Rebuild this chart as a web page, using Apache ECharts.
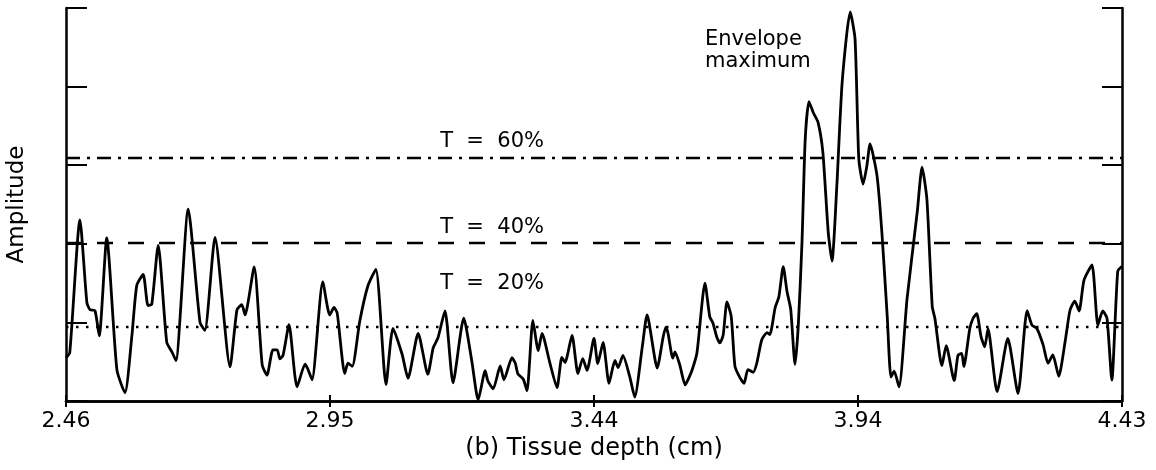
<!DOCTYPE html>
<html>
<head>
<meta charset="utf-8">
<title>Envelope and thresholds</title>
<script src="https://cdn.jsdelivr.net/npm/echarts@6/dist/echarts.min.js"></script>
<style>
  html, body { margin: 0; padding: 0; background: #fff; }
  #chart { width: 1156px; height: 470px; }
</style>
</head>
<body>
<div id="chart"></div>
<script>
// traced envelope: tissue depth (cm) and amplitude (% of full scale)
const depth = [
  2.460,2.467,2.486,2.499,2.505,2.514,2.522,2.536,2.555,2.570,
  2.583,2.592,2.604,2.613,2.620,2.632,2.648,2.658,2.665,2.688,
  2.710,2.719,2.738,2.766,2.779,2.788,2.794,2.811,2.826,2.835,
  2.846,2.854,2.859,2.865,2.876,2.891,2.906,2.911,2.919,2.939,
  2.952,2.960,2.966,2.980,2.986,2.994,3.008,3.023,3.038,3.057,
  3.070,3.087,3.098,3.117,3.135,3.145,3.154,3.167,3.182,3.202,
  3.217,3.229,3.242,3.247,3.257,3.270,3.277,3.292,3.298,3.303,
  3.313,3.320,3.331,3.341,3.348,3.363,3.376,3.385,3.391,3.404,
  3.415,3.424,3.432,3.445,3.452,3.462,3.473,3.484,3.490,3.499,
  3.512,3.521,3.535,3.544,3.563,3.574,3.579,3.583,3.592,3.596,
  3.605,3.615,3.620,3.628,3.637,3.652,3.661,3.667,3.674,3.680,
  3.686,3.693,3.701,3.708,3.717,3.725,3.732,3.742,3.749,3.758,
  3.768,3.773,3.783,3.790,3.798,3.805,3.812,3.820,3.826,3.833,
  3.839,3.846,3.854,3.863,3.872,3.882,3.889,3.898,3.908,3.923,
  3.932,3.939,3.947,3.954,3.960,3.973,3.982,3.992,3.999,4.005,
  4.014,4.029,4.048,4.057,4.066,4.076,4.081,4.094,4.102,4.117,
  4.124,4.131,4.135,4.146,4.152,4.159,4.167,4.174,4.180,4.197,
  4.217,4.236,4.253,4.262,4.271,4.283,4.292,4.301,4.312,4.324,
  4.333,4.342,4.350,4.359,4.374,4.385,4.394,4.402,4.411,4.422,
  4.430
];
const amplitude = [
  11.0,12.3,46.1,25.0,23.2,23.0,16.6,41.5,7.9,2.1,
  16.7,29.4,32.2,24.3,24.6,39.6,14.9,12.4,10.3,48.8,
  20.0,18.0,41.6,8.7,23.2,24.5,21.9,34.1,9.2,6.6,
  13.0,13.0,10.7,11.7,19.4,3.6,9.4,8.2,5.4,30.3,
  21.9,23.8,22.3,7.0,9.6,8.8,20.3,29.2,33.5,4.2,
  18.5,11.9,5.8,17.2,6.8,13.5,16.1,22.9,4.6,21.1,
  10.2,0.3,7.7,5.1,3.1,8.9,5.4,11.0,9.7,6.9,
  5.6,2.6,20.5,12.8,17.2,9.5,3.4,11.1,9.8,16.7,
  7.0,10.8,7.8,15.9,9.5,14.9,4.5,10.3,8.5,11.6,
  6.0,1.0,13.7,21.9,8.4,16.3,18.8,17.3,10.9,12.5,
  9.2,4.1,5.3,7.9,12.2,30.0,21.4,19.8,16.3,14.8,
  16.8,25.2,21.5,8.8,6.0,4.5,8.0,7.3,9.8,15.6,
  17.4,16.9,23.8,26.6,34.2,27.9,23.3,9.3,19.0,40.3,
  66.5,76.2,73.4,70.9,63.2,42.9,35.6,54.7,81.2,99.0,
  92.1,61.6,55.2,59.8,65.4,57.3,43.0,21.6,6.1,7.6,
  3.6,26.0,48.1,59.5,51.4,24.0,21.0,9.0,14.1,5.2,
  11.6,12.1,8.8,18.4,21.0,22.2,16.4,13.8,18.4,2.4,
  15.9,1.9,23.0,19.3,18.5,14.2,9.6,11.7,6.3,15.2,
  23.1,25.4,22.9,30.7,34.6,19.3,22.9,21.1,5.3,33.0,
  34.3
];
const tickLabels = ['2.46', '2.95', '3.44', '3.94', '4.43'];
// threshold levels T = 60%, 40%, 20% as drawn
const thresholdLevels = [61.8, 40.3, 19.0];
const thresholdDash = [[14, 7, 3, 7], [16, 15], [2.5, 7.5]];
// text notes placed at data coordinates [depth, amplitude]
const notes = [
  { text: 'T  =  60%', at: [3.158, 66.0], valign: 'middle' },
  { text: 'T  =  40%', at: [3.158, 44.1], valign: 'middle' },
  { text: 'T  =  20%', at: [3.158, 29.8], valign: 'middle' },
  { text: 'Envelope\nmaximum', at: [3.652, 94.7], valign: 'top' }
];

const font = 'DejaVu Sans';
const chart = echarts.init(document.getElementById('chart'));

const frameX = {
  type: 'value', min: 2.46, max: 4.43, interval: 0.4925,
  axisLine: { show: true, lineStyle: { color: '#000', width: 2.5 } },
  axisTick: { show: true, inside: true, length: 6, lineStyle: { color: '#000', width: 2 } },
  splitLine: { show: false }
};
const frameY = {
  type: 'value', min: 0, max: 100, interval: 20,
  axisLine: { show: true, lineStyle: { color: '#000', width: 2.5 } },
  axisTick: { show: true, inside: true, length: 21, lineStyle: { color: '#000', width: 2 } },
  axisLabel: { show: false },
  splitLine: { show: false }
};

const option = {
  animation: false,
  backgroundColor: '#fff',
  grid: { left: 66, right: 34, top: 8, bottom: 69, outerBoundsMode: 'none' },
  xAxis: [
    Object.assign({}, frameX, {
      position: 'bottom',
      axisLabel: {
        color: '#000', fontFamily: font, fontSize: 22, margin: 9,
        showMinLabel: true, showMaxLabel: true,
        formatter: v => tickLabels[Math.round((v - 2.46) / 0.4925)]
      },
      name: '(b) Tissue depth (cm)',
      nameLocation: 'middle',
      nameGap: 29,
      nameTextStyle: { color: '#000', fontFamily: font, fontSize: 24 }
    }),
    Object.assign({}, frameX, { position: 'top', axisLabel: { show: false } })
  ],
  yAxis: [
    Object.assign({}, frameY, {
      position: 'left',
      name: 'Amplitude',
      nameLocation: 'middle',
      nameGap: 37,
      nameTextStyle: { color: '#000', fontFamily: font, fontSize: 23 }
    }),
    Object.assign({}, frameY, { position: 'right', axisTick: Object.assign({}, frameY.axisTick, { length: 20 }) })
  ],
  series: [{
    type: 'line',
    data: depth.map((d, i) => [d, amplitude[i]]),
    showSymbol: false,
    smooth: 0.2,
    lineStyle: { color: '#000', width: 2.8 },
    markLine: {
      silent: true,
      symbol: ['none', 'none'],
      label: { show: false },
      data: thresholdLevels.map((v, i) => ({
        yAxis: v,
        lineStyle: { color: '#000', width: 2.3, type: thresholdDash[i] }
      }))
    }
  }]
};
chart.setOption(option);

chart.setOption({
  graphic: notes.map(n => {
    const p = chart.convertToPixel({ gridIndex: 0 }, n.at);
    return {
      type: 'text', x: p[0], y: p[1], silent: true,
      style: {
        text: n.text, fill: '#000', font: '21px "' + font + '"',
        lineHeight: 22, textAlign: 'left', textVerticalAlign: n.valign
      }
    };
  })
});
</script>
</body>
</html>
